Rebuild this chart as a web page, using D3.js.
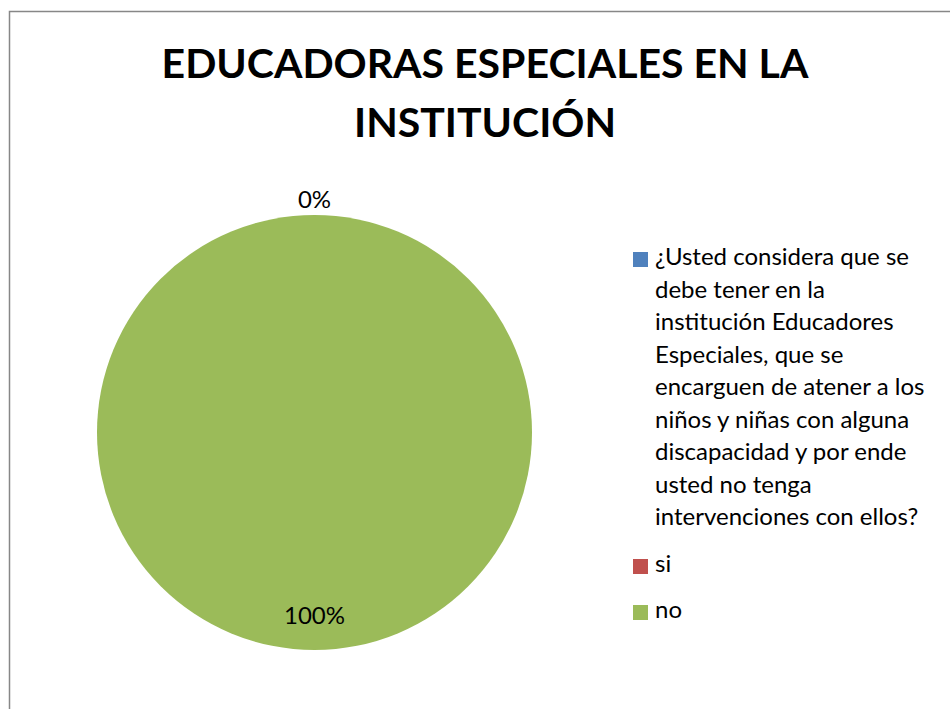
<!DOCTYPE html>
<html>
<head>
<meta charset="utf-8">
<script src="https://cdn.jsdelivr.net/npm/d3@7"></script>
<style>
  body { margin: 0; background: #fff; }
  svg { display: block; }
  text { font-family: Lato, 'Open Sans', sans-serif; fill: #000; }
</style>
</head>
<body>
<svg id="chart" width="950" height="709"></svg>
<script>
const title = ['EDUCADORAS ESPECIALES EN LA', 'INSTITUCIÓN']
const categories = [
  '¿Usted considera que se debe tener en la institución Educadores Especiales, que se encarguen de atener a los niños y niñas con alguna discapacidad y por ende usted no tenga intervenciones con ellos?',
  'si',
  'no'
]
// legend lines as wrapped in the original
const categoryLines = [
  ['¿Usted considera que se', 'debe tener en la', 'institución Educadores', 'Especiales, que se', 'encarguen de atener a los', 'niños y niñas con alguna', 'discapacidad y por ende', 'usted no tenga', 'intervenciones con ellos?'],
  ['si'],
  ['no']
]
const values = [null, 0, 100]
const colors = ['#4F81BD', '#C0504D', '#9BBB59']

const svg = d3.select('#chart')

// chart area border (only left/top visible in the crop)
svg.append('path')
  .attr('d', 'M9.5,709 L9.5,11.5 L950,11.5')
  .attr('fill', 'none')
  .attr('stroke', '#878787')
  .attr('stroke-width', 1.5)

// title
svg.append('g').selectAll('text')
  .data(title)
  .join('text')
  .attr('x', 485)
  .attr('y', (d, i) => 78 + i * 59)
  .attr('text-anchor', 'middle')
  .attr('font-size', 41)
  .attr('font-weight', 'bold')
  .text(d => d)

// pie
const cx = 314.5
const cy = 432.5
const radius = 217.5
const color = d3.scaleOrdinal().domain(categories).range(colors)
const pieData = categories.map((c, i) => ({ category: c, value: values[i] }))
const pie = d3.pie().sort(null).value(d => d.value || 0)
const arcs = pie(pieData)
const arc = d3.arc().innerRadius(0).outerRadius(radius)

const pieG = svg.append('g').attr('transform', `translate(${cx}, ${cy})`)
pieG.selectAll('path')
  .data(arcs)
  .join('path')
  .attr('d', arc)
  .attr('fill', d => color(d.data.category))

// data labels: zero slices outside, the rest inside
const labelArcOut = d3.arc().innerRadius(radius * 1.07).outerRadius(radius * 1.07)
const labelArcIn = d3.arc().innerRadius(radius * 0.84).outerRadius(radius * 0.84)
pieG.selectAll('text.label')
  .data(arcs.filter(d => d.data.value !== null))
  .join('text')
  .attr('class', 'label')
  .attr('transform', d => `translate(${(d.data.value === 0 ? labelArcOut : labelArcIn).centroid(d)})`)
  .attr('text-anchor', 'middle')
  .attr('dy', '0.35em')
  .attr('font-size', 24)
  .text(d => `${d.data.value}%`)

// legend
const legendTops = [265, 572, 618]
const lineHeight = 32.5
const legend = svg.append('g')
categories.forEach((c, i) => {
  const item = legend.append('g').attr('transform', `translate(633, ${legendTops[i]})`)
  item.append('rect')
    .attr('x', 0)
    .attr('y', -13)
    .attr('width', 15)
    .attr('height', 15)
    .attr('fill', color(c))
  item.selectAll('text')
    .data(categoryLines[i])
    .join('text')
    .attr('x', 22)
    .attr('y', (d, j) => j * lineHeight)
    .attr('font-size', 24)
    .text(d => d)
})
</script>
</body>
</html>
